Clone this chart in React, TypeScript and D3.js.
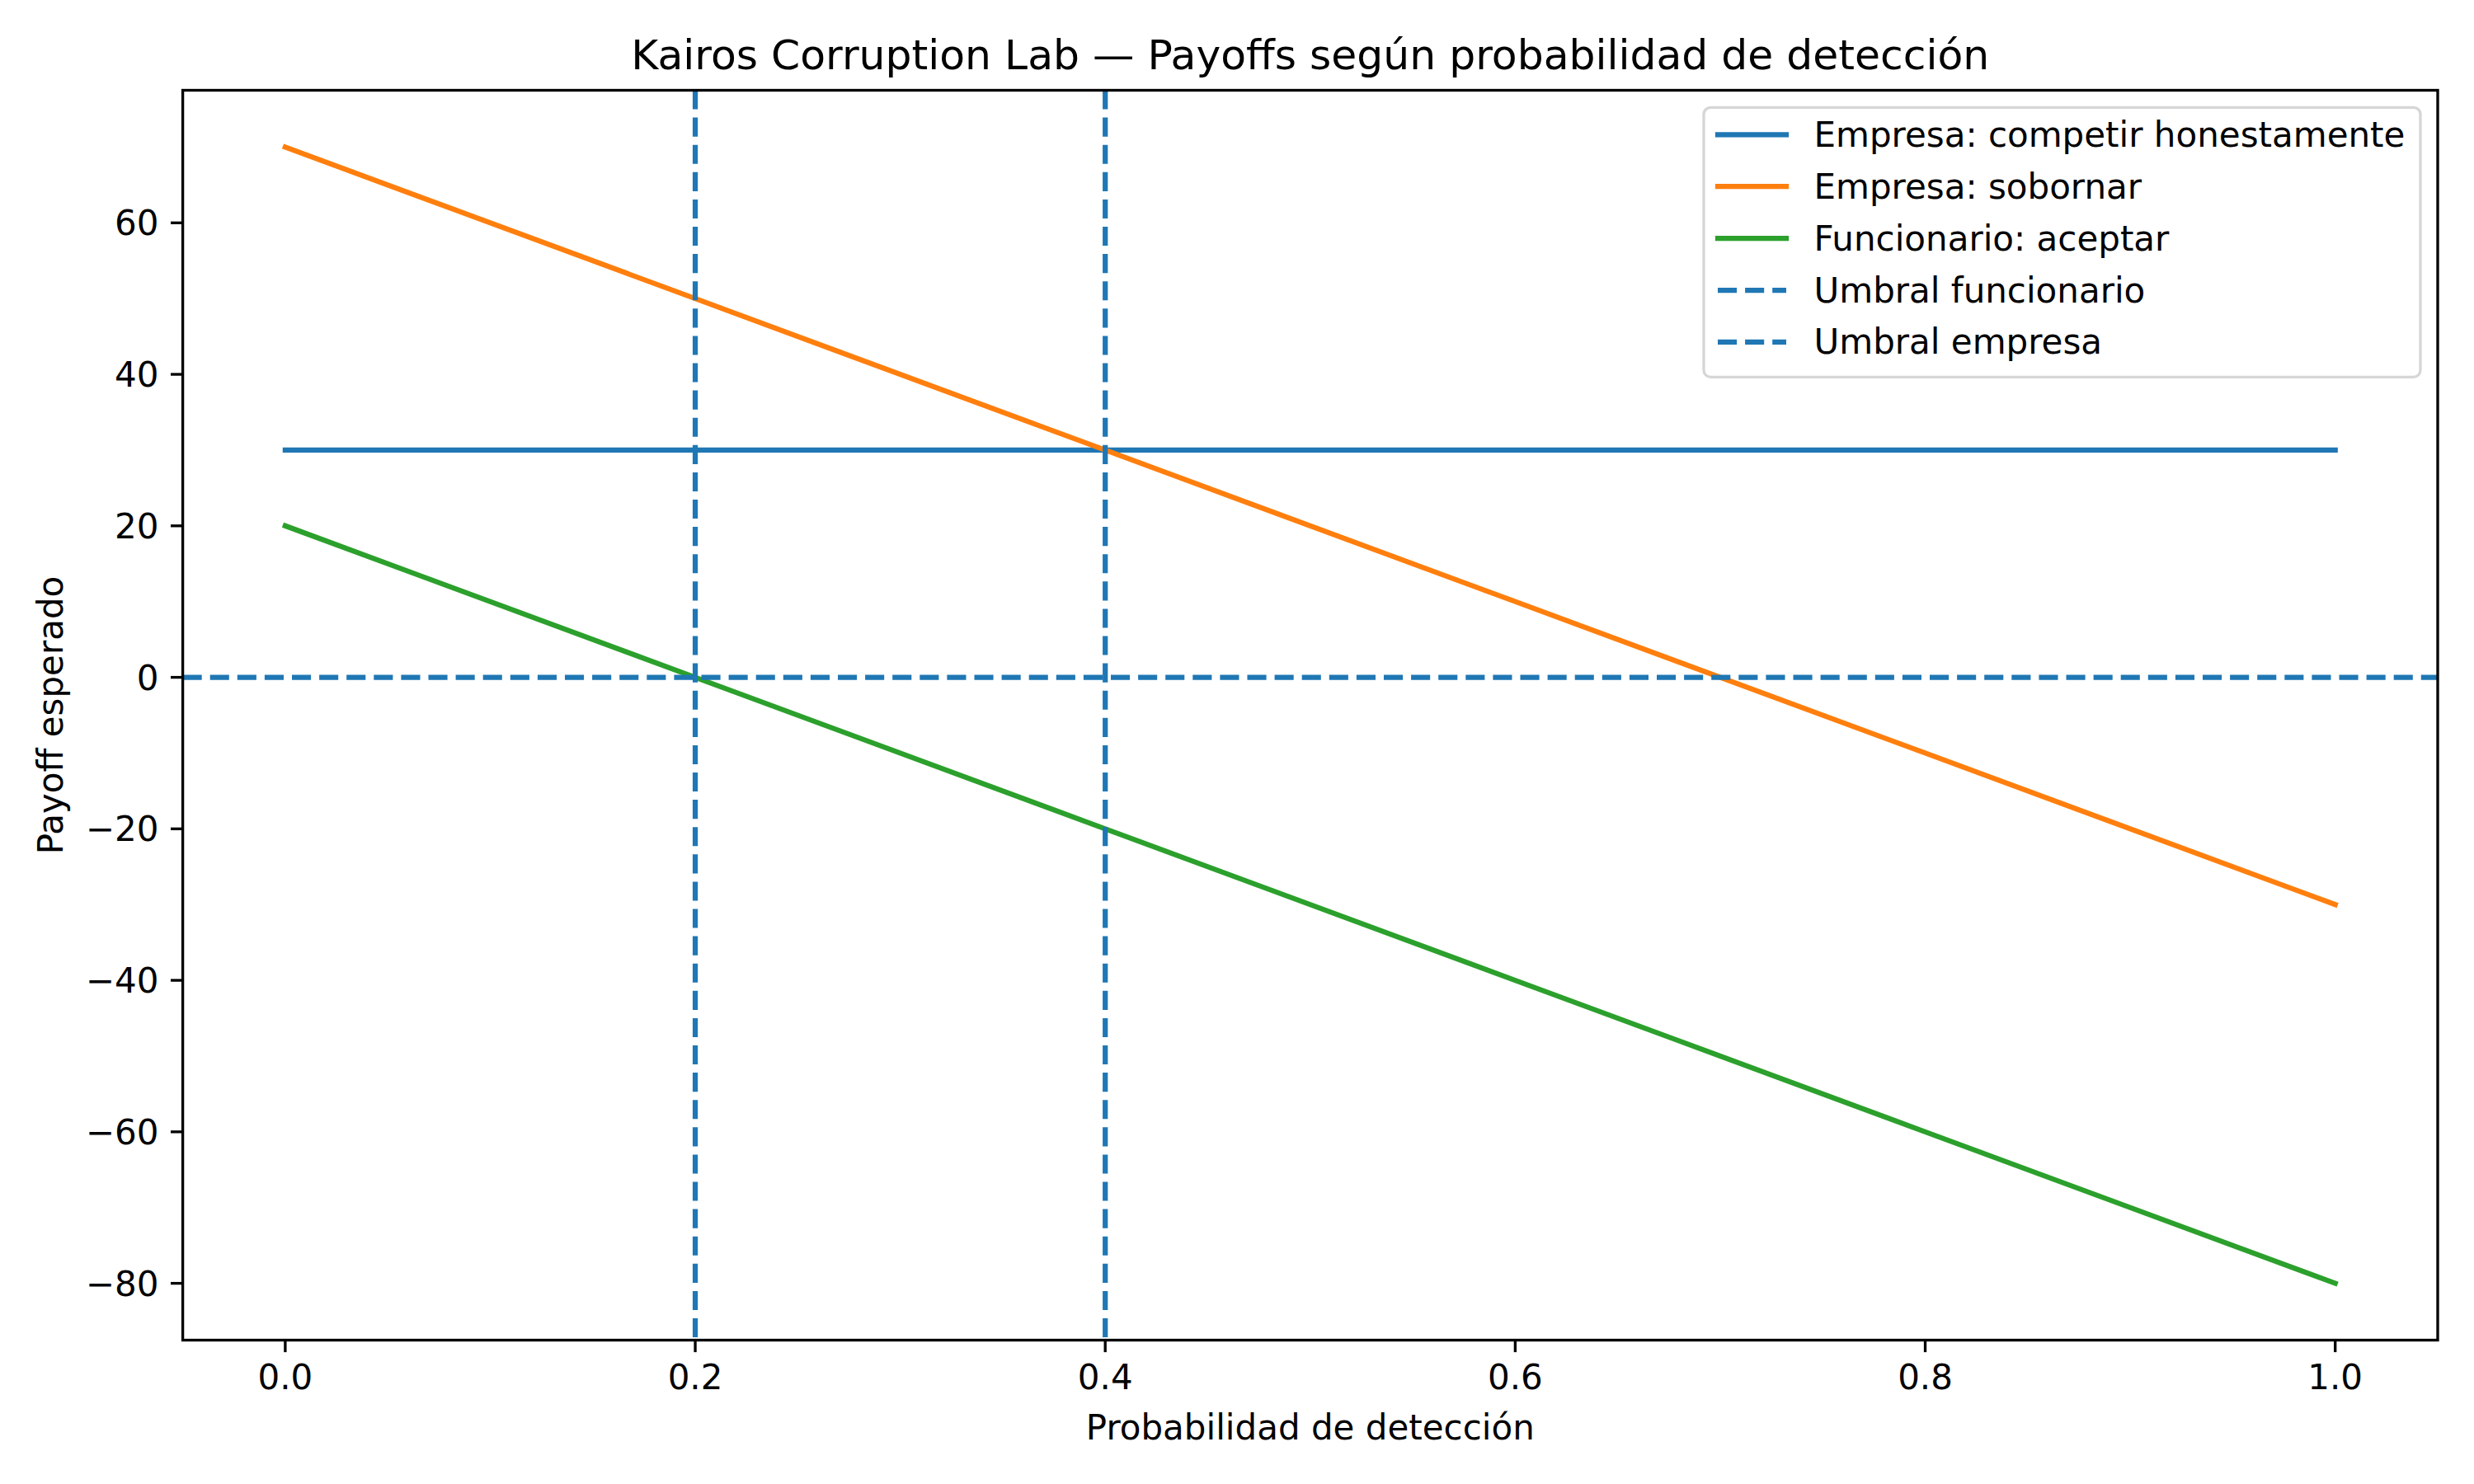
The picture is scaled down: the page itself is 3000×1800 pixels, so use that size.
import * as d3 from "d3";

// detection probability grid and expected payoffs
const detectionProb = [0, 0.2, 0.4, 0.6, 0.8, 1.0];
const honestPayoff = [30, 30, 30, 30, 30, 30];
const bribePayoff = [70, 50, 30, 10, -10, -30];
const acceptPayoff = [20, 0, -20, -40, -60, -80];

const seriesLabels = [
  "Empresa: competir honestamente",
  "Empresa: sobornar",
  "Funcionario: aceptar",
];
const thresholdLabels = ["Umbral funcionario", "Umbral empresa"];
const thresholdValues = [0.2, 0.4];
const zeroLine = 0;

const xTicks = [0, 0.2, 0.4, 0.6, 0.8, 1.0];
const xTickLabels = ["0.0", "0.2", "0.4", "0.6", "0.8", "1.0"];
const yTicks = [-80, -60, -40, -20, 0, 20, 40, 60];

const W = 3000;
const H = 1800;
const FONT = "DejaVu Sans";
const FS = 42; // ~10pt @ 300dpi (agg renders a hair wider)
const TITLE_FS = 50.4;
const LW = 6.25; // 1.5pt
const SPINE = 3.33;
const TICK = 14.6;
const DASH = "23.1 10";

const C0 = "#1f77b4";
const C1 = "#ff7f0e";
const C2 = "#2ca02c";

export default function App() {
  const left = 221.6;
  const right = 2956;
  const top = 109.5;
  const bottom = 1625.5;

  const x = d3.scaleLinear().domain([-0.05, 1.05]).range([left, right]);
  const y = d3.scaleLinear().domain([-87.5, 77.5]).range([bottom, top]);

  const idx = detectionProb.map((_, i) => i);
  const pathFor = (vals: number[]) =>
    d3
      .line<number>()
      .x((i) => x(detectionProb[i]))
      .y((i) => y(vals[i]))(idx) ?? "";

  const series = [
    { vals: honestPayoff, color: C0 },
    { vals: bribePayoff, color: C1 },
    { vals: acceptPayoff, color: C2 },
  ];

  const legendItems = [
    ...seriesLabels.map((label, i) => ({ label, color: series[i].color, dashed: false })),
    ...thresholdLabels.map((label) => ({ label, color: C0, dashed: true })),
  ];

  // legend box, upper right
  const legX = 2066;
  const legY = 130.3;
  const legW = 869;
  const legH = 327;
  const rowY0 = 163.3;
  const rowStep = 62.9;
  const handleX0 = 2083;
  const handleX1 = 2166;
  const textX = 2199.5;

  const cx = (left + right) / 2;
  const cy = (top + bottom) / 2;

  return (
    <svg
      width={W}
      height={H}
      viewBox={`0 0 ${W} ${H}`}
      style={{ position: "absolute", left: 0, top: 0, background: "#fff" }}
      fontFamily={FONT}
    >
      <rect x={0} y={0} width={W} height={H} fill="#fff" />
      <defs>
        <clipPath id="plot-clip">
          <rect x={left} y={top} width={right - left} height={bottom - top} />
        </clipPath>
      </defs>

      <g clipPath="url(#plot-clip)">
        {series.map((s, i) => (
          <path
            key={i}
            d={pathFor(s.vals)}
            fill="none"
            stroke={s.color}
            strokeWidth={LW}
            strokeLinecap="square"
            strokeLinejoin="round"
          />
        ))}
        {thresholdValues.map((p, i) => (
          <line
            key={i}
            x1={x(p)}
            x2={x(p)}
            y1={top}
            y2={bottom}
            stroke={C0}
            strokeWidth={LW}
            strokeDasharray={DASH}
            strokeLinecap="butt"
          />
        ))}
        <line
          x1={left}
          x2={right}
          y1={y(zeroLine)}
          y2={y(zeroLine)}
          stroke={C0}
          strokeWidth={LW}
          strokeDasharray={DASH}
          strokeLinecap="butt"
        />
      </g>

      {/* spines */}
      <rect
        x={left}
        y={top}
        width={right - left}
        height={bottom - top}
        fill="none"
        stroke="#000"
        strokeWidth={SPINE}
        strokeLinejoin="miter"
      />

      {/* x ticks */}
      {xTicks.map((t, i) => (
        <g key={i}>
          <line x1={x(t)} x2={x(t)} y1={bottom} y2={bottom + TICK} stroke="#000" strokeWidth={SPINE} />
          <text x={x(t)} y={1685} fontSize={FS} textAnchor="middle" fill="#000">
            {xTickLabels[i]}
          </text>
        </g>
      ))}

      {/* y ticks */}
      {yTicks.map((t, i) => (
        <g key={i}>
          <line x1={left - TICK} x2={left} y1={y(t)} y2={y(t)} stroke="#000" strokeWidth={SPINE} />
          <text x={left - 2 * TICK} y={y(t) + 15} fontSize={FS} textAnchor="end" fill="#000">
            {t < 0 ? `\u2212${Math.abs(t)}` : `${t}`}
          </text>
        </g>
      ))}

      {/* labels */}
      <text x={cx} y={84} fontSize={TITLE_FS} textAnchor="middle" fill="#000">
        Kairos Corruption Lab — Payoffs según probabilidad de detección
      </text>
      <text x={cx} y={1746} fontSize={FS} textAnchor="middle" fill="#000">
        Probabilidad de detección
      </text>
      <text
        transform={`translate(76, ${cy}) rotate(-90)`}
        fontSize={FS}
        textAnchor="middle"
        fill="#000"
      >
        Payoff esperado
      </text>

      {/* legend */}
      <rect
        x={legX}
        y={legY}
        width={legW}
        height={legH}
        rx={8.3}
        ry={8.3}
        fill="#fff"
        fillOpacity={0.8}
        stroke="#cccccc"
        strokeOpacity={0.8}
        strokeWidth={SPINE}
      />
      {legendItems.map((item, i) => {
        const ry = rowY0 + i * rowStep;
        return (
          <g key={i}>
            <line
              x1={handleX0}
              x2={handleX1}
              y1={ry}
              y2={ry}
              stroke={item.color}
              strokeWidth={LW}
              strokeDasharray={item.dashed ? DASH : undefined}
              strokeLinecap={item.dashed ? "butt" : "square"}
            />
            <text x={textX} y={ry + 14.5} fontSize={FS} fill="#000">
              {item.label}
            </text>
          </g>
        );
      })}
    </svg>
  );
}
